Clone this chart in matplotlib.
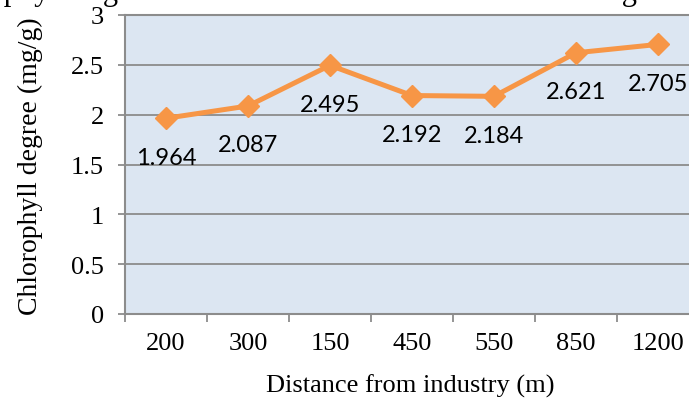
import matplotlib
matplotlib.use("Agg")
import matplotlib.pyplot as plt

distances = ["200", "300", "150", "450", "550", "850", "1200"]
chlorophyll = [1.964, 2.087, 2.495, 2.192, 2.184, 2.621, 2.705]
y_ticks = [0, 0.5, 1, 1.5, 2, 2.5, 3]
y_tick_labels = ["0", "0.5", "1", "1.5", "2", "2.5", "3"]

W, H = 689, 402
orange = "#F79646"
grey = "#8C8C8C"
serif = "Liberation Serif"

fig = plt.figure(figsize=(W / 100, H / 100), dpi=100)
ax = fig.add_axes([125 / W, (H - 315) / H, 574 / W, 299 / H])
ax.set_facecolor("#DCE6F2")

x = list(range(len(distances)))
ax.plot(x, chlorophyll, color=orange, lw=3.6, marker="D", ms=11,
        solid_joinstyle="miter", zorder=3)

for xi, v in zip(x, chlorophyll):
    ax.annotate(f"{v:.3f}", (xi, v), xytext=(0, -28), textcoords="offset points",
                ha="center", va="center", fontsize=17, family="Lato",
                color="black", zorder=4)

ax.set_xlim(-0.5, len(distances) - 0.5)
ax.set_ylim(0, 3)

ax.set_yticks(y_ticks)
ax.set_yticklabels(y_tick_labels, family=serif, fontsize=19)
ax.tick_params(axis="y", length=5, width=1.3, color=grey, pad=10)

# category boundaries carry the tick marks, centres carry the labels
ax.set_xticks([i - 0.5 for i in range(len(distances) + 1)])
ax.set_xticklabels([])
ax.set_xticks(x, minor=True)
ax.set_xticklabels(distances, minor=True, family=serif, fontsize=19)
ax.tick_params(axis="x", which="major", length=6, width=1.3, color=grey)
ax.tick_params(axis="x", which="minor", length=0, pad=13)

ax.grid(axis="y", color=grey, lw=1.3)
ax.set_axisbelow(True)
for s in ax.spines.values():
    s.set_color(grey)
    s.set_linewidth(1.5)

ax.set_ylabel("Chlorophyll degree (mg/g)", family=serif, fontsize=20)
ax.yaxis.set_label_coords(-(125 - 43) / 574, (315 - 166) / 299)
ax.set_xlabel("Distance from industry (m)", family=serif, fontsize=19)
ax.xaxis.set_label_coords((410 - 125) / 574, -0.2)

# caption line from the page above, mostly cut off
fig.text(-81 / W, 1.0, "Chlorophyll degree at different distances from the building",
         family=serif, fontsize=22, va="baseline", ha="left")

fig.savefig("out.png", dpi=100)
